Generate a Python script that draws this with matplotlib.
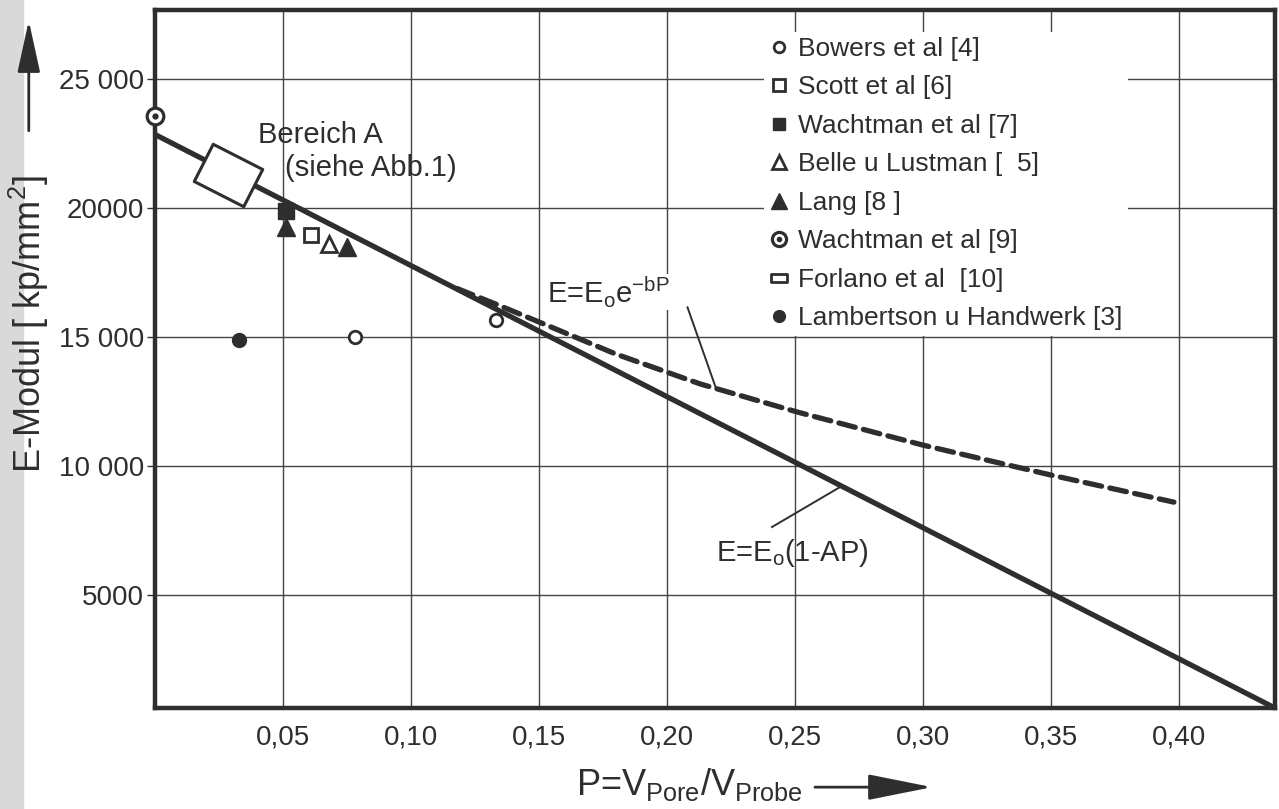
import numpy as np
import matplotlib
matplotlib.use('Agg')
import matplotlib.pyplot as plt
from matplotlib.markers import MarkerStyle
from matplotlib.transforms import Affine2D
from matplotlib.path import Path
from matplotlib.legend_handler import HandlerTuple
from matplotlib.patches import Rectangle, FancyArrowPatch

# values
bowers_p = [0.078, 0.133]
bowers_e = [15000, 15660]
scott_p = [0.061]
scott_e = [18950]
wachtman7_p = [0.051]
wachtman7_e = [19900]
belle_p = [0.068]
belle_e = [18600]
lang_p = [0.051, 0.075]
lang_e = [19250, 18500]
wachtman9_p = [0.0]
wachtman9_e = [23550]
forlano_p = []
forlano_e = []
lambertson_p = [0.033]
lambertson_e = [14880]

bereich_p = [0.0285]
bereich_e = [21280]

linear_p = [0.0, 0.4375]
linear_e = [22850, 620]

exp_p = [0.118, 0.135, 0.152, 0.180, 0.213, 0.251, 0.300, 0.350, 0.398]
exp_e = [16880, 16200, 15500, 14340, 13180, 12090, 10810, 9650, 8600]

xticks = [0.05, 0.10, 0.15, 0.20, 0.25, 0.30, 0.35, 0.40]
xticklabels = ['0,05', '0,10', '0,15', '0,20', '0,25', '0,30', '0,35', '0,40']
yticks = [5000, 10000, 15000, 20000, 25000]
yticklabels = ['5000', '10 000', '15 000', '20000', '25 000']

fam = 'Liberation Sans'
plt.rcParams['font.family'] = [fam, 'DejaVu Sans']
plt.rcParams['mathtext.fontset'] = 'custom'
plt.rcParams['mathtext.rm'] = fam
plt.rcParams['mathtext.it'] = fam

ink = '#2e2e2e'

fig = plt.figure(figsize=(12.79, 8.09), dpi=100)
fig.patches.append(Rectangle((0, 0), 0.018, 1, transform=fig.transFigure,
                             color='#d9d9d9', zorder=0))
ax = fig.add_axes([0.1212, 0.1248, 0.8757, 0.8628])

ax.set_xlim(0, 0.4375)
ax.set_ylim(620, 27674)
ax.set_xticks(xticks)
ax.set_xticklabels(xticklabels, fontsize=20)
ax.set_yticks(yticks)
ax.set_yticklabels(yticklabels, fontsize=20)
ax.tick_params(axis='x', length=0, pad=12, colors=ink)
ax.tick_params(axis='y', length=6, width=1, pad=2, colors=ink)
ax.grid(True, color='#444444', lw=1.0)
for s in ax.spines.values():
    s.set_linewidth(3.2)
    s.set_color(ink)

ax.plot(linear_p, linear_e, color=ink, lw=3.8, zorder=3, solid_capstyle='butt')
ax.plot(exp_p, exp_e, color=ink, lw=3.8, ls=(0, (3.2, 1.6)), zorder=3,
        dash_capstyle='round')

# Bereich A box
rect = Path([(-0.665, -0.5), (0.665, -0.5), (0.665, 0.5), (-0.665, 0.5), (-0.665, -0.5)],
            closed=True)
box = MarkerStyle(rect, transform=Affine2D().rotate_deg(-27))
ax.plot(bereich_p, bereich_e, ls='none', marker=box, ms=40, mfc='white', mec=ink,
        mew=2.2, zorder=4)

h_bowers, = ax.plot(bowers_p, bowers_e, ls='none', marker='o', ms=9, mfc='white',
                    mec=ink, mew=2, zorder=5)
h_scott, = ax.plot(scott_p, scott_e, ls='none', marker='s', ms=10, mfc='white',
                   mec=ink, mew=2, zorder=5)
h_w7, = ax.plot(wachtman7_p, wachtman7_e, ls='none', marker='s', ms=11, mfc=ink,
                mec=ink, zorder=5)
h_belle, = ax.plot(belle_p, belle_e, ls='none', marker='^', ms=12, mfc='white',
                   mec=ink, mew=2, zorder=5)
h_lang, = ax.plot(lang_p, lang_e, ls='none', marker='^', ms=13, mfc=ink,
                  mec=ink, zorder=5)
h_w9a, = ax.plot(wachtman9_p, wachtman9_e, ls='none', marker='o', ms=12, mfc='white',
                 mec=ink, mew=2.3, zorder=6, clip_on=False)
h_w9b, = ax.plot(wachtman9_p, wachtman9_e, ls='none', marker='o', ms=3.5, mfc=ink,
                 mec=ink, zorder=7, clip_on=False)
flat = Path([(-1, -0.45), (1, -0.45), (1, 0.45), (-1, 0.45), (-1, -0.45)], closed=True)
h_forlano, = ax.plot(forlano_p, forlano_e, ls='none', marker=flat, ms=14, mfc='white',
                     mec=ink, mew=2, zorder=5)
h_lamb, = ax.plot(lambertson_p, lambertson_e, ls='none', marker='o', ms=10, mfc=ink,
                  mec=ink, zorder=5)

leg = ax.legend([h_bowers, h_scott, h_w7, h_belle, h_lang, (h_w9a, h_w9b), h_forlano, h_lamb],
                ['Bowers et al [4]', 'Scott et al [6]', 'Wachtman et al [7]',
                 'Belle u Lustman [  5]', 'Lang [8 ]', 'Wachtman et al [9]',
                 'Forlano et al  [10]', 'Lambertson u Handwerk [3]'],
                handler_map={tuple: HandlerTuple(ndivide=1)},
                loc='upper left', bbox_to_anchor=(0.532, 0.988), fontsize=19,
                labelspacing=0.55, handlelength=0.7, handletextpad=0.4, borderpad=0.2,
                markerscale=0.85, frameon=True, framealpha=1, facecolor='white',
                edgecolor='none', labelcolor=ink)
leg.set_zorder(8)

# annotations
ax.text(0.0402, 22830, 'Bereich A', fontsize=21, color=ink, va='center', ha='left')
ax.text(0.0508, 21550, '(siehe Abb.1)', fontsize=21, color=ink, va='center', ha='left')

ax.text(0.249, 6628, r'E=E$_{\rm o}$(1-AP)', fontsize=21, color=ink, va='center',
        ha='center')
ax.plot([0.241, 0.2676], [7636, 9186], color=ink, lw=1.4, zorder=3)

ax.text(0.153, 16750, r'E=E$_{\rm o}$e$^{\rm {-}bP}$', fontsize=21, color=ink,
        va='center', ha='left', zorder=6,
        bbox=dict(facecolor='white', edgecolor='none', pad=0.5))
ax.plot([0.208, 0.219], [16150, 13050], color=ink, lw=1.4, zorder=3)

# axis labels with arrows
fig.text(0.0225, 0.60, r'E-Modul [ kp/mm$^2$]', rotation=90, fontsize=26,
         color=ink, ha='center', va='center')
fig.add_artist(FancyArrowPatch(
    (0.0225, 0.835), (0.0225, 0.978), transform=fig.transFigure,
    arrowstyle='-|>,head_length=1.6,head_width=0.35', mutation_scale=20,
    lw=2, color=ink))
fig.text(0.539, 0.030, r'P=V$_{\rm Pore}$/V$_{\rm Probe}$', fontsize=26,
         color=ink, ha='center', va='center')
fig.add_artist(FancyArrowPatch(
    (0.635, 0.027), (0.731, 0.027), transform=fig.transFigure,
    arrowstyle='-|>,head_length=2.0,head_width=0.4', mutation_scale=20,
    lw=2, color=ink))

fig.savefig('out.png', dpi=100)
